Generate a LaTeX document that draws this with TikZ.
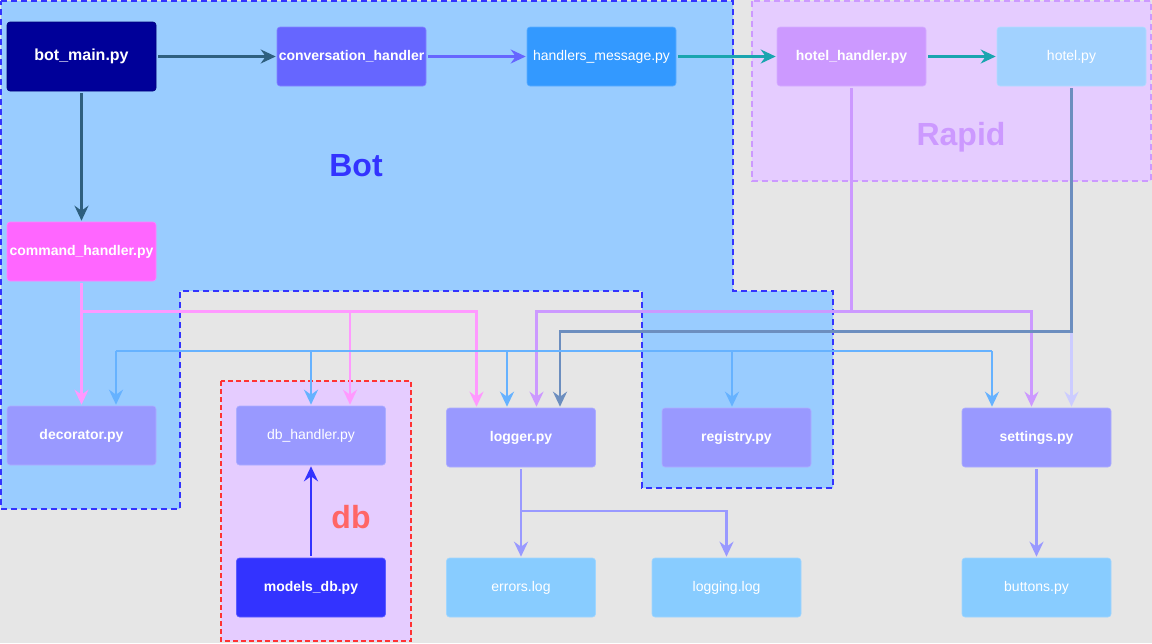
\documentclass[tikz,border=0pt]{standalone}
\usepackage{fontspec}
\setmainfont{Liberation Sans}
\usetikzlibrary{arrows.meta}
\definecolor{cBg}{HTML}{E6E6E6}
\definecolor{cBot}{HTML}{99CCFF}
\definecolor{cBotLine}{HTML}{3333FF}
\definecolor{cRapidFill}{HTML}{E5CCFF}
\definecolor{cRapidLine}{HTML}{CC99FF}
\definecolor{cDbLine}{HTML}{FF3333}
\definecolor{cDbText}{HTML}{FF6666}
\definecolor{cNavy}{HTML}{000099}
\definecolor{cConv}{HTML}{6666FF}
\definecolor{cHmsg}{HTML}{3399FF}
\definecolor{cHH}{HTML}{CC99FF}
\definecolor{cHotel}{HTML}{A2D2FF}
\definecolor{cCmd}{HTML}{FF66FF}
\definecolor{cMod}{HTML}{9999FF}
\definecolor{cModels}{HTML}{3333FF}
\definecolor{cLog}{HTML}{88CCFF}
\definecolor{eDark}{HTML}{2E5F7F}
\definecolor{eTeal}{HTML}{19A5AF}
\definecolor{ePink}{HTML}{FF99FF}
\definecolor{eBlue}{HTML}{66B2FF}
\definecolor{eSlate}{HTML}{6C8EBF}
\definecolor{eLight}{HTML}{CCCCFF}
\begin{document}
\begin{tikzpicture}[x=1pt,y=-1pt,
  box/.style={rectangle, rounded corners=3pt, minimum width=149pt, minimum height=59pt,
    inner sep=0pt, text=white, font=\fontsize{14}{16}\selectfont, line width=0.6pt},
  boldbox/.style={box, font=\fontsize{14}{16}\selectfont\bfseries},
  arr/.style={-{Stealth[length=15pt,width=14pt,inset=5pt]}, line width=2.6pt, shorten >=1pt, shorten <=2pt},
  bus/.style={line width=2.6pt},
  group/.style={line width=1.8pt, dashed, dash pattern=on 6pt off 4pt},
  grouplabel/.style={font=\fontsize{32}{36}\selectfont\bfseries, inner sep=0pt}
]
\useasboundingbox (0,0) rectangle (1152,643);
\fill[cBg] (0,0) rectangle (1152,643);

% groups
\draw[group, fill=cBot, draw=cBotLine] (1,1) -- (733,1) -- (733,291) -- (833,291) -- (833,488)
  -- (642,488) -- (642,291) -- (180,291) -- (180,509) -- (1,509) -- cycle;
\draw[group, fill=cRapidFill, draw=cRapidLine] (752,1) rectangle (1151,181);
\draw[group, fill=cRapidFill, draw=cDbLine, dash pattern=on 5pt off 3pt] (221,381) rectangle (411,641);

\node[grouplabel, text=cBotLine] (lblBot) at (356,166) {Bot};
\node[grouplabel, text=cRapidLine] (lblRapid) at (961,137) {Rapid};
\node[grouplabel, text=cDbText] (lblDb) at (351,517) {db};

% nodes
\node[boldbox, fill=cNavy, draw=cNavy!80!black, minimum height=69pt, font=\fontsize{16}{18}\selectfont\bfseries] (botmain) at (81.5,56.5) {bot\_main.py};
\node[boldbox, fill=cConv, draw=cConv!80!white] (conv) at (351.5,56.5) {conversation\_handler};
\node[box, fill=cHmsg, draw=cHmsg!80!white] (hmsg) at (601.5,56.5) {handlers\_message.py};
\node[boldbox, fill=cHH, draw=cHH!80!white] (hh) at (851.5,56.5) {hotel\_handler.py};
\node[box, fill=cHotel, draw=cHotel!80!white] (hotel) at (1071.5,56.5) {hotel.py};
\node[boldbox, fill=cCmd, draw=cCmd!80!white] (cmd) at (81.5,251.5) {command\_handler.py};
\node[boldbox, fill=cMod, draw=cMod!80!white] (deco) at (81.5,435.5) {decorator.py};
\node[box, fill=cMod, draw=cMod!80!white] (dbh) at (311,435.5) {db\_handler.py};
\node[boldbox, fill=cMod, draw=cMod!80!white] (logger) at (521,437.5) {logger.py};
\node[boldbox, fill=cMod, draw=cMod!80!white] (registry) at (736.5,437.5) {registry.py};
\node[boldbox, fill=cMod, draw=cMod!80!white] (settings) at (1036.5,437.5) {settings.py};
\node[boldbox, fill=cModels, draw=cModels!80!white] (models) at (311,587.5) {models\_db.py};
\node[box, fill=cLog, draw=cLog!80!white] (errors) at (521,587.5) {errors.log};
\node[box, fill=cLog, draw=cLog!80!white] (logging) at (726.5,587.5) {logging.log};
\node[box, fill=cLog, draw=cLog!80!white] (buttons) at (1036.5,587.5) {buttons.py};

% junction coordinates
\coordinate (pkA) at (350,311.5);
\coordinate (pkB) at (476.5,311.5);
\coordinate (puA) at (536.5,311.5);
\coordinate (puB) at (1031.5,311.5);
\coordinate (slA) at (560,331.5);
\coordinate (blA) at (116,351);
\coordinate (blB) at (992,351);
\coordinate (lgA) at (726.5,511);

% top row
\draw[arr, eDark] (botmain) -- (conv);
\draw[arr, eDark] (botmain) -- (cmd);
\draw[arr, cConv] (conv) -- (hmsg);
\draw[arr, eTeal] (hmsg) -- (hh);
\draw[arr, eTeal] (hh) -- (hotel);

% command_handler
\draw[arr, ePink] (cmd) -- (deco);
\draw[arr, ePink] (cmd.south) |- (pkA) -- ([xshift=39pt]dbh.north);
\draw[arr, ePink] (cmd.south) |- (pkB) -- ([xshift=-44.5pt]logger.north);

% hotel_handler
\draw[arr, cHH] (hh.south) |- (puA) -- ([xshift=15.5pt]logger.north);
\draw[arr, cHH] (hh.south) |- (puB) -- ([xshift=-5pt]settings.north);

% hotel.py
\draw[arr, eLight] (hotel) -- ([xshift=35pt]settings.north);
\draw[arr, eSlate] (hotel.south) |- (slA) -- ([xshift=39pt]logger.north);

% blue bus
\draw[bus, eBlue] (blA) -- (blB);
\draw[arr, eBlue, shorten <=0pt] (blA) -- ([xshift=34.5pt]deco.north);
\draw[arr, eBlue, shorten <=0pt] (dbh.north |- blA) -- (dbh.north);
\draw[arr, eBlue, shorten <=0pt] ([xshift=-14pt]logger.north |- blA) -- ([xshift=-14pt]logger.north);
\draw[arr, eBlue, shorten <=0pt] ([xshift=-4.5pt]registry.north |- blA) -- ([xshift=-4.5pt]registry.north);
\draw[arr, eBlue, shorten <=0pt] (blB) -- ([xshift=-44.5pt]settings.north);

% lower
\draw[arr, cMod] (logger) -- (errors);
\draw[arr, cMod] (logger.south) |- (lgA) -- (logging.north);
\draw[arr, cMod] (settings) -- (buttons);
\draw[arr, cModels] (models) -- (dbh);
\end{tikzpicture}
\end{document}
